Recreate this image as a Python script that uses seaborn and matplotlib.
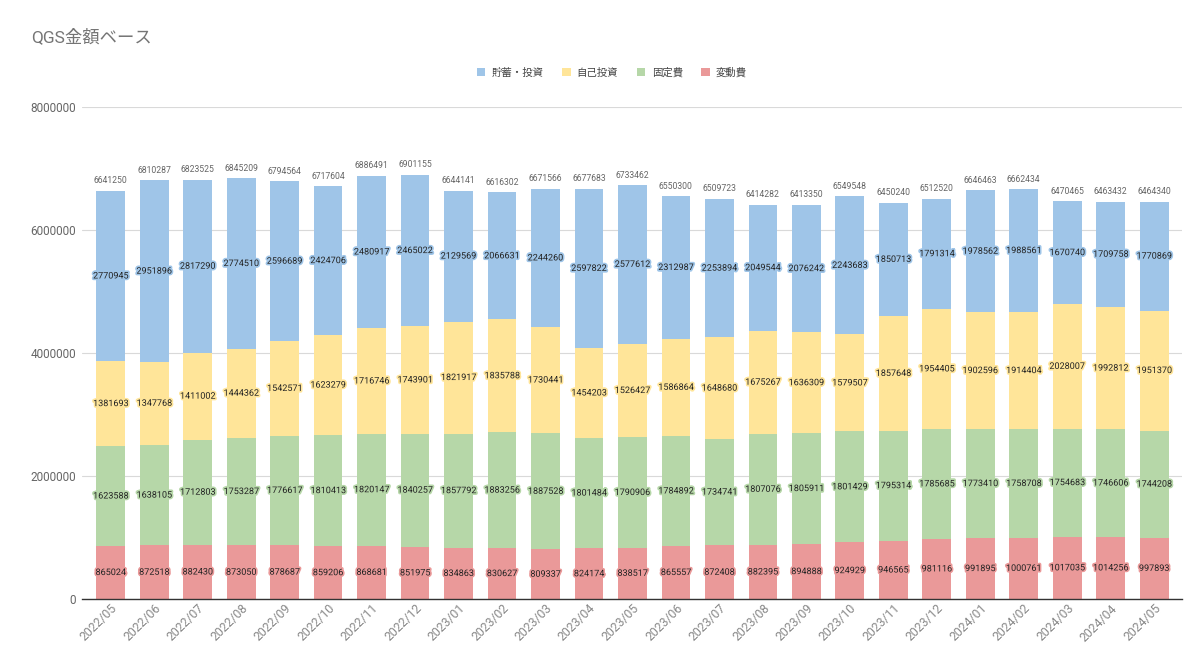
import numpy as np
import pandas as pd
import seaborn as sns
import matplotlib.pyplot as plt
import matplotlib.patheffects as pe
from matplotlib.ticker import FuncFormatter

# data
months = ['2022/05', '2022/06', '2022/07', '2022/08', '2022/09', '2022/10', '2022/11', '2022/12',
          '2023/01', '2023/02', '2023/03', '2023/04', '2023/05', '2023/06', '2023/07', '2023/08',
          '2023/09', '2023/10', '2023/11', '2023/12', '2024/01', '2024/02', '2024/03', '2024/04',
          '2024/05']
variable = [865024, 872518, 882430, 873050, 878687, 859206, 868681, 851975,
            834863, 830627, 809337, 824174, 838517, 865557, 872408, 882395,
            894888, 924929, 946565, 981116, 991895, 1000761, 1017035, 1014256,
            997893]
fixed = [1623588, 1638105, 1712803, 1753287, 1776617, 1810413, 1820147, 1840257,
         1857792, 1883256, 1887528, 1801484, 1790906, 1784892, 1734741, 1807076,
         1805911, 1801429, 1795314, 1785685, 1773410, 1758708, 1754683, 1746606,
         1744208]
self_invest = [1381693, 1347768, 1411002, 1444362, 1542571, 1623279, 1716746, 1743901,
               1821917, 1835788, 1730441, 1454203, 1526427, 1586864, 1648680, 1675267,
               1636309, 1579507, 1857648, 1954405, 1902596, 1914404, 2028007, 1992812,
               1951370]
savings = [2770945, 2951896, 2817290, 2774510, 2596689, 2424706, 2480917, 2465022,
           2129569, 2066631, 2244260, 2597822, 2577612, 2312987, 2253894, 2049544,
           2076242, 2243683, 1850713, 1791314, 1978562, 1988561, 1670740, 1709758,
           1770869]

series_names = ['変動費', '固定費', '自己投資', '貯蓄・投資']
colors = {'変動費': '#ea9999', '固定費': '#b6d7a8', '自己投資': '#ffe599', '貯蓄・投資': '#9fc5e8'}

df = pd.DataFrame({'month': months, '変動費': variable, '固定費': fixed,
                   '自己投資': self_invest, '貯蓄・投資': savings})
cum = df[series_names].cumsum(axis=1)
df['total'] = cum['貯蓄・投資']

sns.set_theme(style='whitegrid')
plt.rcParams['font.family'] = ['Roboto', 'Noto Sans CJK JP', 'DejaVu Sans']

fig, ax = plt.subplots(figsize=(12, 6.62), dpi=100)
fig.subplots_adjust(left=0.068, right=0.985, bottom=0.095, top=0.838)

# stacked bars: draw cumulative heights from the top series down
for name in reversed(series_names):
    sns.barplot(x=df['month'], y=cum[name], color=colors[name], saturation=1,
                width=0.66, linewidth=0, label=name, ax=ax)

# segment labels
bottoms = cum - df[series_names]
for name in series_names:
    for i in range(len(df)):
        v = df[name][i]
        ax.text(i, bottoms[name][i] + v / 2, str(v), ha='center', va='center',
                fontsize=6.5, color='#222222',
                path_effects=[pe.withStroke(linewidth=2.5, foreground=colors[name])])

# totals
for i, t in enumerate(df['total']):
    ax.text(i, t + 90000, str(t), ha='center', va='bottom', fontsize=6.2, color='#666666')

ax.set_xlim(-0.67, len(df) - 0.36)
ax.set_ylim(0, 8000000)
ax.set_yticks([0, 2000000, 4000000, 6000000, 8000000])
ax.yaxis.set_major_formatter(FuncFormatter(lambda v, p: f'{int(v)}'))
ax.set_xlabel('')
ax.set_ylabel('')
ax.grid(axis='x', visible=False)
ax.grid(axis='y', color='#d9d9d9', linewidth=0.8)
ax.set_axisbelow(True)
for s in ['top', 'right', 'left']:
    ax.spines[s].set_visible(False)
ax.spines['bottom'].set_color('#333333')
ax.spines['bottom'].set_linewidth(1.0)
ax.tick_params(axis='y', labelsize=8.5, labelcolor='#666666', length=0, pad=4)
ax.tick_params(axis='x', labelsize=8.8, labelcolor='#888888', length=0, pad=2)
plt.setp(ax.get_xticklabels(), rotation=45, ha='right', rotation_mode='anchor')

handles, labels = ax.get_legend_handles_labels()
if ax.get_legend():
    ax.get_legend().remove()
fig.legend(handles, labels, loc='center', bbox_to_anchor=(0.51, 0.89), ncol=4, frameon=False,
           fontsize=7.5, handlelength=0.8, handleheight=0.8, handletextpad=0.6, columnspacing=1.8,
           labelcolor='#444444')

fig.text(0.026, 0.945, 'QGS金額ベース', fontsize=12.5, color='#757575', ha='left', va='center')

fig.savefig('out.png', dpi=100)
